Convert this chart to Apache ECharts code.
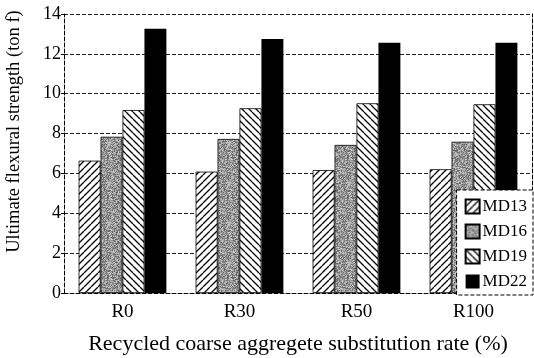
<!DOCTYPE html>
<html><head><meta charset="utf-8">
<script src="https://cdn.jsdelivr.net/npm/echarts@6/dist/echarts.min.js"></script>
<style>html,body{margin:0;padding:0;background:#fff}#c{width:534px;height:358px}</style>
</head><body><div id="c"></div>
<script>
const categories = ['R0', 'R30', 'R50', 'R100'];
const md13 = [6.64, 6.09, 6.17, 6.21];
const md16 = [7.84, 7.73, 7.43, 7.59];
const md19 = [9.18, 9.27, 9.52, 9.47];
const md22 = [13.26, 12.74, 12.56, 12.56];
const seriesNames = ['MD13', 'MD16', 'MD19', 'MD22'];
const yTicks = [0, 2, 4, 6, 8, 10, 12, 14];

function hatch(dir) {
  const s = 7, c = document.createElement('canvas');
  c.width = s; c.height = s;
  const g = c.getContext('2d');
  g.fillStyle = '#fff'; g.fillRect(0, 0, s, s);
  g.strokeStyle = '#000'; g.lineWidth = 1.3;
  g.beginPath();
  for (let k = -1; k <= 1; k++) {
    if (dir > 0) { g.moveTo(k * s, s); g.lineTo(k * s + s, 0); }
    else { g.moveTo(k * s, 0); g.lineTo(k * s + s, s); }
  }
  g.stroke();
  return c;
}
function speckle() {
  const s = 40, c = document.createElement('canvas');
  c.width = s; c.height = s;
  const g = c.getContext('2d');
  const img = g.createImageData(s, s);
  for (let y = 0; y < s; y++) for (let x = 0; x < s; x++) {
    let h = (x * 374761393 + y * 668265263) | 0;
    h = Math.imul(h ^ (h >>> 13), 1274126177);
    h = (h ^ (h >>> 16)) >>> 0;
    const v = 95 + (h % 110);
    const i = (y * s + x) * 4;
    img.data[i] = img.data[i + 1] = img.data[i + 2] = v; img.data[i + 3] = 255;
  }
  g.putImageData(img, 0, 0);
  return c;
}
const fills = [
  { image: hatch(1), repeat: 'repeat' },
  { image: speckle(), repeat: 'repeat' },
  { image: hatch(-1), repeat: 'repeat' },
  '#000'
];
const dataSets = [md13, md16, md19, md22];
const font = 'Liberation Serif';
const chart = echarts.init(document.getElementById('c'));
chart.setOption({
  animation: false,
  backgroundColor: '#fff',
  grid: { left: 64, right: 2, top: 14, bottom: 65, outerBoundsMode: 'none', containLabel: false },
  legend: {
    orient: 'vertical', right: 1, bottom: 63,
    backgroundColor: '#fff', borderColor: '#000', borderWidth: 1, borderType: 'dashed',
    padding: [8, 6, 5, 8], itemGap: 8, itemWidth: 14, itemHeight: 14,
    textStyle: { fontFamily: font, fontSize: 17, color: '#000', padding: [0, 0, 0, -2] },
    data: seriesNames.map(n => ({ name: n, icon: 'rect' }))
  },
  xAxis: {
    type: 'category', data: categories,
    name: 'Recycled coarse aggregete substitution rate (%)',
    nameLocation: 'middle', nameGap: 40,
    nameTextStyle: { fontFamily: font, fontSize: 22, color: '#000' },
    axisLine: { lineStyle: { color: '#000', type: 'dashed', width: 1 } },
    axisTick: { show: false },
    axisLabel: { fontFamily: font, fontSize: 19, color: '#000', margin: 10 }
  },
  yAxis: [{
    type: 'value', min: 0, max: 14, interval: 2,
    name: 'Ultimate flexural strength (ton f)',
    nameLocation: 'middle', nameGap: 40,
    nameTextStyle: { fontFamily: font, fontSize: 18.5, color: '#000', padding: [0, 0, 0, 44] },
    axisLine: { show: true, lineStyle: { color: '#000', type: 'dashed', width: 1 } },
    axisTick: { show: true, length: 3, lineStyle: { color: '#000' } },
    axisLabel: { fontFamily: font, fontSize: 18, color: '#000', margin: 3,
      formatter: v => yTicks.includes(v) ? String(v) : '' },
    splitLine: { lineStyle: { color: '#222', type: 'dashed', width: 1 } }
  }, {
    type: 'value', min: 0, max: 14, interval: 2, position: 'right',
    axisLine: { show: true, lineStyle: { color: '#000', type: 'dashed', width: 1 } },
    axisTick: { show: false }, axisLabel: { show: false }, splitLine: { show: false }
  }],
  series: seriesNames.map((n, i) => ({
    name: n, type: 'bar', data: dataSets[i],
    barGap: '0%', barCategoryGap: '25%',
    itemStyle: { color: fills[i], borderColor: '#000', borderWidth: i === 3 ? 0 : 0.8 }
  }))
});
</script></body></html>
